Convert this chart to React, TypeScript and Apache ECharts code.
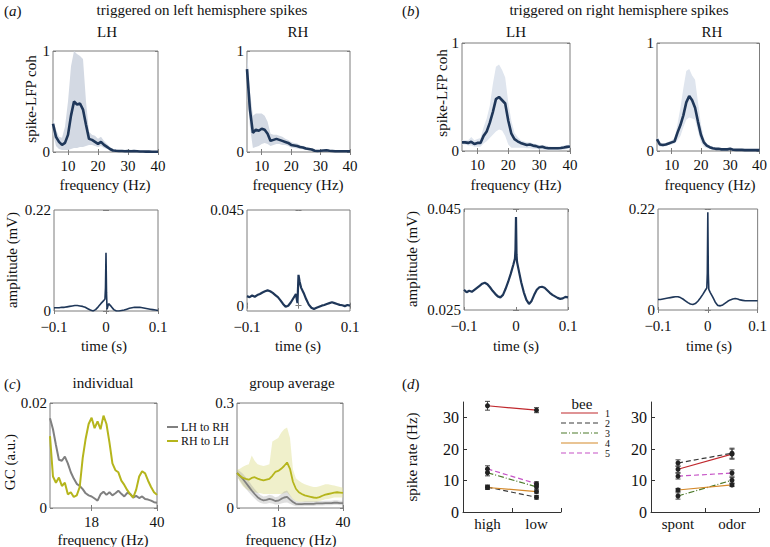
import React, { useEffect, useRef } from 'react';
import * as echarts from 'echarts';

// ---------------- data ----------------
const cohFreq = [5, 6, 7, 8, 9, 10, 11, 12, 13, 14, 15, 16, 17, 18, 19, 20, 21, 22, 23, 24, 25, 26, 27, 28, 29, 30, 31, 32, 33, 34, 35, 36, 37, 38, 39, 40];

const cohA_LH_mean = [0.28, 0.15, 0.10, 0.07, 0.09, 0.17, 0.36, 0.50, 0.47, 0.48, 0.42, 0.27, 0.13, 0.12, 0.10, 0.08, 0.10, 0.07, 0.05, 0.03, 0.015, 0.012, 0.010, 0.010, 0.008, 0.010, 0.008, 0.010, 0.008, 0.005, 0.005, 0.004, 0.004, 0.003, 0.003, 0.003];
const cohA_LH_hi = [0.33, 0.22, 0.15, 0.14, 0.25, 0.50, 0.85, 1.00, 0.97, 0.95, 0.92, 0.50, 0.20, 0.17, 0.16, 0.13, 0.15, 0.11, 0.08, 0.05, 0.03, 0.025, 0.02, 0.02, 0.018, 0.02, 0.018, 0.02, 0.016, 0.012, 0.012, 0.01, 0.01, 0.008, 0.008, 0.008];
const cohA_LH_lo = [0.18, 0.06, 0.03, 0.02, 0.02, 0.02, 0.03, 0.04, 0.04, 0.05, 0.05, 0.06, 0.07, 0.07, 0.06, 0.05, 0.06, 0.04, 0.03, 0.015, 0.005, 0.002, 0.002, 0.002, 0.002, 0.002, 0.002, 0.002, 0.002, 0.002, 0.002, 0.002, 0.002, 0.002, 0.002, 0.002];

const cohA_RH_mean = [0.82, 0.42, 0.19, 0.22, 0.21, 0.23, 0.22, 0.18, 0.11, 0.12, 0.13, 0.12, 0.11, 0.10, 0.09, 0.07, 0.065, 0.06, 0.05, 0.045, 0.035, 0.03, 0.025, 0.012, 0.01, 0.012, 0.015, 0.018, 0.012, 0.01, 0.008, 0.008, 0.008, 0.008, 0.007, 0.007];
const cohA_RH_hi = [1.0, 0.60, 0.36, 0.38, 0.38, 0.38, 0.36, 0.30, 0.18, 0.17, 0.17, 0.16, 0.15, 0.13, 0.12, 0.10, 0.09, 0.085, 0.07, 0.06, 0.05, 0.04, 0.035, 0.02, 0.018, 0.02, 0.022, 0.025, 0.02, 0.015, 0.012, 0.012, 0.012, 0.012, 0.01, 0.01];
const cohA_RH_lo = [0.60, 0.25, 0.04, 0.05, 0.06, 0.08, 0.09, 0.08, 0.06, 0.07, 0.08, 0.08, 0.07, 0.07, 0.06, 0.045, 0.04, 0.035, 0.03, 0.028, 0.02, 0.018, 0.015, 0.005, 0.003, 0.005, 0.008, 0.01, 0.005, 0.004, 0.003, 0.003, 0.003, 0.003, 0.003, 0.003];

const cohB_LH_mean = [0.08, 0.08, 0.075, 0.085, 0.065, 0.075, 0.075, 0.14, 0.18, 0.26, 0.36, 0.48, 0.50, 0.47, 0.44, 0.28, 0.16, 0.11, 0.09, 0.075, 0.065, 0.055, 0.06, 0.05, 0.045, 0.035, 0.04, 0.03, 0.025, 0.025, 0.025, 0.025, 0.028, 0.032, 0.038, 0.042];
const cohB_LH_hi = [0.10, 0.10, 0.10, 0.13, 0.10, 0.11, 0.12, 0.22, 0.30, 0.42, 0.62, 0.78, 0.80, 0.75, 0.68, 0.45, 0.28, 0.17, 0.13, 0.10, 0.09, 0.08, 0.08, 0.07, 0.065, 0.055, 0.055, 0.05, 0.045, 0.04, 0.04, 0.04, 0.045, 0.05, 0.055, 0.06];
const cohB_LH_lo = [0.06, 0.06, 0.05, 0.05, 0.04, 0.04, 0.04, 0.07, 0.09, 0.12, 0.15, 0.18, 0.20, 0.19, 0.14, 0.06, 0.03, 0.03, 0.03, 0.03, 0.03, 0.025, 0.025, 0.02, 0.02, 0.015, 0.015, 0.01, 0.008, 0.008, 0.008, 0.008, 0.01, 0.012, 0.018, 0.022];

const cohB_RH_mean = [0.11, 0.06, 0.055, 0.06, 0.07, 0.08, 0.09, 0.17, 0.24, 0.33, 0.45, 0.51, 0.47, 0.40, 0.27, 0.15, 0.08, 0.05, 0.035, 0.025, 0.02, 0.02, 0.015, 0.015, 0.015, 0.02, 0.012, 0.01, 0.01, 0.01, 0.008, 0.008, 0.008, 0.008, 0.008, 0.008];
const cohB_RH_hi = [0.13, 0.08, 0.07, 0.075, 0.085, 0.10, 0.12, 0.25, 0.40, 0.58, 0.74, 0.76, 0.70, 0.66, 0.45, 0.25, 0.12, 0.07, 0.05, 0.04, 0.03, 0.028, 0.022, 0.02, 0.02, 0.025, 0.018, 0.015, 0.015, 0.014, 0.012, 0.012, 0.012, 0.012, 0.012, 0.012];
const cohB_RH_lo = [0.09, 0.04, 0.04, 0.045, 0.055, 0.06, 0.07, 0.10, 0.14, 0.22, 0.29, 0.31, 0.30, 0.29, 0.18, 0.08, 0.04, 0.025, 0.02, 0.012, 0.01, 0.01, 0.008, 0.008, 0.008, 0.012, 0.006, 0.005, 0.005, 0.005, 0.004, 0.004, 0.004, 0.004, 0.004, 0.004];

const ampTime = [-0.1, -0.095, -0.09, -0.085, -0.08, -0.075, -0.07, -0.065, -0.06, -0.055, -0.05, -0.045, -0.04, -0.035, -0.03, -0.025, -0.02, -0.015, -0.01, -0.005, -0.002, -0.001, 0, 0.001, 0.002, 0.005, 0.01, 0.015, 0.02, 0.025, 0.03, 0.035, 0.04, 0.045, 0.05, 0.055, 0.06, 0.065, 0.07, 0.075, 0.08, 0.085, 0.09, 0.095, 0.1];
const ampA_LH = [0.007, 0.007, 0.007, 0.008, 0.008, 0.009, 0.010, 0.011, 0.012, 0.012, 0.011, 0.010, 0.008, 0.005, 0.002, 0.000, 0.003, 0.009, 0.016, 0.022, 0.026, 0.050, 0.127, 0.040, 0.004, 0.016, 0.010, 0.003, 0.000, 0.000, 0.001, 0.002, 0.004, 0.006, 0.007, 0.008, 0.008, 0.008, 0.007, 0.006, 0.005, 0.004, 0.003, 0.002, 0.001];
const ampA_RH = [0.0045, 0.0040, 0.0048, 0.0042, 0.0050, 0.0055, 0.0062, 0.0068, 0.0072, 0.0068, 0.0060, 0.0050, 0.0040, 0.0025, 0.0008, -0.0005, 0.0000, 0.0015, 0.0035, 0.0055, 0.0012, 0.0080, 0.0145, 0.0130, 0.0115, 0.0085, 0.0060, 0.0030, 0.0005, -0.0010, -0.0016, -0.0010, -0.0005, 0.0000, 0.0003, 0.0008, 0.0012, 0.0016, 0.0012, 0.0008, 0.0004, 0.0002, -0.0002, 0.0003, 0.0000];
const ampB_LH = [0.0290, 0.0285, 0.0288, 0.0286, 0.0290, 0.0294, 0.0298, 0.0302, 0.0304, 0.0301, 0.0295, 0.0288, 0.0282, 0.0277, 0.0275, 0.0280, 0.0292, 0.0306, 0.0322, 0.0340, 0.0352, 0.0370, 0.0434, 0.0360, 0.0345, 0.0330, 0.0305, 0.0285, 0.0270, 0.0262, 0.0268, 0.0280, 0.0290, 0.0295, 0.0296, 0.0294, 0.0289, 0.0284, 0.0280, 0.0277, 0.0274, 0.0272, 0.0273, 0.0276, 0.0275];
const ampB_RH = [0.023, 0.023, 0.024, 0.025, 0.026, 0.027, 0.028, 0.029, 0.029, 0.027, 0.024, 0.020, 0.016, 0.013, 0.012, 0.014, 0.019, 0.026, 0.034, 0.043, 0.048, 0.080, 0.213, 0.080, 0.045, 0.038, 0.028, 0.017, 0.010, 0.009, 0.011, 0.015, 0.019, 0.022, 0.024, 0.025, 0.024, 0.022, 0.021, 0.020, 0.020, 0.020, 0.020, 0.020, 0.020];

const gcFreq = [4, 5, 6, 7, 8, 9, 10, 11, 12, 13, 14, 15, 16, 17, 18, 19, 20, 21, 22, 23, 24, 25, 26, 27, 28, 29, 30, 31, 32, 33, 34, 35, 36, 37, 38, 39, 40];
const gcIndLR = [0.0171, 0.0150, 0.0120, 0.0092, 0.0090, 0.0098, 0.0085, 0.0068, 0.0056, 0.0046, 0.0042, 0.0036, 0.0028, 0.0024, 0.0022, 0.0018, 0.0014, 0.0026, 0.0031, 0.0025, 0.0030, 0.0024, 0.0028, 0.0033, 0.0027, 0.0022, 0.0029, 0.0027, 0.0020, 0.0023, 0.0019, 0.0022, 0.0017, 0.0016, 0.0014, 0.0011, 0.0010];
const gcIndRL = [0.0137, 0.0060, 0.0048, 0.0058, 0.0042, 0.0048, 0.0026, 0.0030, 0.0021, 0.0024, 0.0040, 0.0095, 0.0132, 0.0160, 0.0172, 0.0152, 0.0165, 0.0150, 0.0176, 0.0160, 0.0125, 0.0085, 0.0072, 0.0068, 0.0052, 0.0044, 0.0034, 0.0026, 0.0020, 0.0035, 0.0060, 0.0070, 0.0066, 0.0052, 0.0040, 0.0030, 0.0025];
const gcAvgLR = [0.100, 0.092, 0.083, 0.072, 0.061, 0.050, 0.040, 0.031, 0.025, 0.022, 0.023, 0.026, 0.024, 0.020, 0.021, 0.026, 0.030, 0.032, 0.024, 0.017, 0.012, 0.011, 0.011, 0.012, 0.012, 0.012, 0.012, 0.013, 0.013, 0.013, 0.014, 0.014, 0.014, 0.015, 0.015, 0.014, 0.014];
const gcAvgLR_lo = [0.090, 0.078, 0.066, 0.055, 0.045, 0.036, 0.027, 0.019, 0.014, 0.012, 0.012, 0.014, 0.013, 0.010, 0.010, 0.013, 0.015, 0.016, 0.012, 0.008, 0.005, 0.005, 0.005, 0.006, 0.006, 0.006, 0.006, 0.007, 0.007, 0.007, 0.008, 0.008, 0.008, 0.009, 0.009, 0.008, 0.008];
const gcAvgLR_hi = [0.110, 0.105, 0.098, 0.088, 0.077, 0.065, 0.054, 0.044, 0.037, 0.033, 0.034, 0.038, 0.036, 0.031, 0.033, 0.040, 0.047, 0.050, 0.037, 0.026, 0.020, 0.018, 0.018, 0.019, 0.019, 0.019, 0.019, 0.020, 0.020, 0.020, 0.021, 0.021, 0.021, 0.022, 0.022, 0.021, 0.021];
const gcAvgRL = [0.100, 0.092, 0.086, 0.083, 0.081, 0.086, 0.088, 0.084, 0.081, 0.079, 0.081, 0.083, 0.092, 0.103, 0.106, 0.112, 0.120, 0.130, 0.112, 0.075, 0.055, 0.045, 0.040, 0.036, 0.034, 0.032, 0.030, 0.029, 0.031, 0.035, 0.038, 0.040, 0.042, 0.044, 0.045, 0.044, 0.043];
const gcAvgRL_hi = [0.110, 0.112, 0.118, 0.122, 0.125, 0.150, 0.135, 0.125, 0.122, 0.120, 0.122, 0.125, 0.190, 0.195, 0.200, 0.215, 0.225, 0.230, 0.200, 0.110, 0.085, 0.078, 0.072, 0.068, 0.065, 0.062, 0.060, 0.060, 0.062, 0.065, 0.068, 0.068, 0.066, 0.064, 0.062, 0.060, 0.058];
const gcAvgRL_lo = [0.090, 0.075, 0.062, 0.055, 0.050, 0.048, 0.045, 0.043, 0.042, 0.040, 0.040, 0.040, 0.040, 0.040, 0.040, 0.040, 0.042, 0.045, 0.035, 0.025, 0.020, 0.018, 0.018, 0.018, 0.018, 0.018, 0.018, 0.018, 0.020, 0.022, 0.025, 0.026, 0.028, 0.030, 0.030, 0.030, 0.030];

const beeNames = ['1', '2', '3', '4', '5'];
const intensityCats = ['high', 'low'];
const stimCats = ['spont', 'odor'];
const beeHigh = [33.8, 7.9, 12.5, 7.8, 13.7];
const beeLow = [32.4, 4.7, 8.0, 6.5, 9.0];
const beeHighErr = [1.4, 0.7, 1.0, 0.6, 1.0];
const beeLowErr = [0.8, 0.6, 0.7, 0.5, 0.6];
const beeSpont = [13.6, 15.6, 5.1, 7.0, 11.4];
const beeOdor = [18.4, 18.7, 10.1, 8.6, 12.4];
const beeSpontErr = [1.0, 1.0, 1.0, 0.5, 0.9];
const beeOdorErr = [1.6, 1.6, 0.9, 0.5, 1.0];

// ---------------- styles ----------------
const FONT = "'Liberation Serif', 'Times New Roman', serif";
const FRAME = '#7d7d7d';
const NAVY = '#1f3759';
const BAND_A = '#d3d9e3';
const BAND_B = '#dfe5ee';
const GC_GRAY = '#808080';
const GC_YEL = '#b5b51c';
const BEE_COLORS = ['#c0282d', '#3a3a3a', '#4d7a2a', '#d4892a', '#c653c6'];
const BEE_DASH: any[] = ['solid', [5, 3], [6, 2, 1, 2], 'solid', [5, 3]];

function buildOption() {
  const grids: any[] = [];
  const xAxes: any[] = [];
  const yAxes: any[] = [];
  const series: any[] = [];
  const graphics: any[] = [];
  const fmt = (v: number) => (v < 0 ? '\u2212' + String(Math.abs(v)) : String(v));
  const lab = { color: '#111', fontSize: 15, fontFamily: FONT, lineHeight: 13 };
  const tick = { show: true, inside: true, length: 3, lineStyle: { color: FRAME, width: 1 } };

  function framed(box: number[], xr: number[], xt: number[], yr: number[], yt: number[], xMargin = 7) {
    const gi = grids.length;
    grids.push({ left: box[0], top: box[1], width: box[2], height: box[3], show: true, borderColor: FRAME, borderWidth: 1, backgroundColor: 'transparent' });
    const xi = xAxes.length;
    xAxes.push({ type: 'value', gridIndex: gi, position: 'bottom', min: xr[0], max: xr[1], axisLine: { show: false }, splitLine: { show: false }, axisTick: { ...tick, customValues: xt }, axisLabel: { ...lab, customValues: xt, formatter: fmt, margin: xMargin } });
    xAxes.push({ type: 'value', gridIndex: gi, position: 'top', min: xr[0], max: xr[1], axisLine: { show: false }, splitLine: { show: false }, axisTick: { ...tick, customValues: xt }, axisLabel: { show: false } });
    const yi = yAxes.length;
    yAxes.push({ type: 'value', gridIndex: gi, position: 'left', min: yr[0], max: yr[1], axisLine: { show: false }, splitLine: { show: false }, axisTick: { ...tick, customValues: yt }, axisLabel: { ...lab, customValues: yt, formatter: fmt, margin: 3 } });
    yAxes.push({ type: 'value', gridIndex: gi, position: 'right', min: yr[0], max: yr[1], axisLine: { show: false }, splitLine: { show: false }, axisTick: { ...tick, customValues: yt }, axisLabel: { show: false } });
    return { xi, yi };
  }

  function plain(box: number[], cats: string[]) {
    const gi = grids.length;
    grids.push({ left: box[0], top: box[1], width: box[2], height: box[3], show: false });
    const xi = xAxes.length;
    const al = { show: true, lineStyle: { color: '#333', width: 1 } };
    xAxes.push({ type: 'category', gridIndex: gi, data: cats, boundaryGap: true, axisLine: al, axisTick: { show: true, inside: true, length: 4, lineStyle: { color: '#333' } }, axisLabel: { ...lab, margin: 5 }, splitLine: { show: false } });
    const yi = yAxes.length;
    yAxes.push({ type: 'value', gridIndex: gi, min: 0, max: 35, axisLine: al, axisTick: { show: true, inside: true, length: 4, lineStyle: { color: '#333' }, customValues: [0, 10, 20, 30] }, axisLabel: { ...lab, fontSize: 16, margin: 4, customValues: [0, 10, 20, 30] }, splitLine: { show: false } });
    return { xi, yi };
  }

  function line(ax: any, xs: number[], ys: number[], color: string, width: number, z = 3) {
    series.push({ type: 'line', xAxisIndex: ax.xi, yAxisIndex: ax.yi, data: xs.map((x, i) => [x, ys[i]]), symbol: 'none', showSymbol: false, lineStyle: { color, width }, z, silent: true, clip: true });
  }
  // shaded band drawn as a single polygon through the axis scales
  function band(ax: any, xs: number[], lo: number[], hi: number[], color: string, z = 1) {
    series.push({
      type: 'custom', xAxisIndex: ax.xi, yAxisIndex: ax.yi, z, silent: true, clip: true,
      data: xs.map((x, i) => [x, lo[i], hi[i]]),
      renderItem: (params: any, api: any) => {
        if (params.dataIndex !== 0) return null;
        const upper = xs.map((x, i) => api.coord([x, hi[i]]));
        const lower = xs.map((x, i) => api.coord([x, lo[i]])).reverse();
        return { type: 'polygon', shape: { points: upper.concat(lower) }, style: { fill: color, stroke: 'none' } };
      },
    });
  }
  function errbars(ax: any, vals: number[][], errs: number[][]) {
    const data: number[][] = [];
    vals.forEach((v, b) => v.forEach((val, c) => data.push([c, val - errs[b][c], val + errs[b][c]])));
    series.push({
      type: 'custom', xAxisIndex: ax.xi, yAxisIndex: ax.yi, z: 2, silent: true, data,
      renderItem: (_p: any, api: any) => {
        const x = api.value(0);
        const a = api.coord([x, api.value(1)]);
        const b = api.coord([x, api.value(2)]);
        const w = 2.5;
        const st = { stroke: '#444', lineWidth: 1 };
        return {
          type: 'group', children: [
            { type: 'line', shape: { x1: a[0], y1: a[1], x2: b[0], y2: b[1] }, style: st },
            { type: 'line', shape: { x1: a[0] - w, y1: a[1], x2: a[0] + w, y2: a[1] }, style: st },
            { type: 'line', shape: { x1: b[0] - w, y1: b[1], x2: b[0] + w, y2: b[1] }, style: st },
          ],
        };
      },
    });
  }
  function beeLines(ax: any, a: number[], b: number[]) {
    beeNames.forEach((_n, i) => {
      series.push({ type: 'line', xAxisIndex: ax.xi, yAxisIndex: ax.yi, data: [a[i], b[i]], symbol: 'circle', symbolSize: 5, itemStyle: { color: '#222' }, lineStyle: { color: BEE_COLORS[i], width: 1.2, type: BEE_DASH[i] }, z: 3, silent: true });
    });
  }

  // ---- row 1: coherence ----
  const cohX = [5, 40];
  const cohXT = [10, 20, 30, 40];
  const a1 = framed([53, 51, 105, 101], cohX, cohXT, [0, 1], [0, 1]);
  band(a1, cohFreq, cohA_LH_lo, cohA_LH_hi, BAND_A);
  line(a1, cohFreq, cohA_LH_mean, NAVY, 2.6);
  const a2 = framed([247, 51, 103, 101], cohX, cohXT, [0, 1], [0, 1]);
  band(a2, cohFreq, cohA_RH_lo, cohA_RH_hi, BAND_A);
  line(a2, cohFreq, cohA_RH_mean, NAVY, 2.6);
  const b1 = framed([462, 43, 108, 108], cohX, cohXT, [0, 1], [0, 1]);
  band(b1, cohFreq, cohB_LH_lo, cohB_LH_hi, BAND_B);
  line(b1, cohFreq, cohB_LH_mean, NAVY, 2.6);
  const b2 = framed([657, 43, 106, 108], cohX, cohXT, [0, 1], [0, 1]);
  band(b2, cohFreq, cohB_RH_lo, cohB_RH_hi, BAND_B);
  line(b2, cohFreq, cohB_RH_mean, NAVY, 2.6);

  // ---- row 2: amplitude ----
  const tX = [-0.1, 0.1];
  const tXT = [-0.1, 0, 0.1];
  const a3 = framed([54, 210, 104, 101], tX, tXT, [0, 0.22], [0, 0.22], 9);
  line(a3, ampTime, ampA_LH, NAVY, 1.6);
  const a4 = framed([247, 210, 103, 101], tX, tXT, [-0.0025, 0.045], [0, 0.045], 9);
  line(a4, ampTime, ampA_RH, NAVY, 2.2);
  const b3 = framed([464, 209, 104, 101], tX, tXT, [0.025, 0.045], [0.025, 0.045], 9);
  line(b3, ampTime, ampB_LH, NAVY, 2.2);
  const b4 = framed([658, 209, 103, 101], tX, tXT, [0, 0.22], [0, 0.22], 9);
  line(b4, ampTime, ampB_RH, NAVY, 1.6);

  // ---- row 3: GC ----
  const c1 = framed([50, 403, 107, 105], [4, 40], [18, 40], [0, 0.02], [0, 0.02]);
  line(c1, gcFreq, gcIndLR, GC_GRAY, 2);
  line(c1, gcFreq, gcIndRL, GC_YEL, 2);
  const c2 = framed([237, 403, 106, 105], [4, 40], [18, 40], [0, 0.3], [0, 0.3]);
  band(c2, gcFreq, gcAvgRL_lo, gcAvgRL_hi, 'rgba(222,222,140,0.45)');
  band(c2, gcFreq, gcAvgLR_lo, gcAvgLR_hi, 'rgba(150,150,150,0.3)');
  line(c2, gcFreq, gcAvgLR, GC_GRAY, 1.8);
  line(c2, gcFreq, gcAvgRL, GC_YEL, 1.8);

  // ---- (d) spike rates ----
  const d1 = plain([463, 402, 98, 110], intensityCats);
  errbars(d1, beeHigh.map((v, i) => [v, beeLow[i]]), beeHighErr.map((e, i) => [e, beeLowErr[i]]));
  beeLines(d1, beeHigh, beeLow);
  const d2 = plain([651, 402, 108, 110], stimCats);
  errbars(d2, beeSpont.map((v, i) => [v, beeOdor[i]]), beeSpontErr.map((e, i) => [e, beeOdorErr[i]]));
  beeLines(d2, beeSpont, beeOdor);

  // ---- texts ----
  const base = { fill: '#111', fontSize: 15, fontFamily: FONT, align: 'center', verticalAlign: 'middle' };
  const text = (x: number, y: number, s: string, o: any = {}) => graphics.push({ type: 'text', x, y, silent: true, style: { ...base, text: s, ...o } });
  const vtext = (x: number, y: number, s: string, o: any = {}) => graphics.push({ type: 'text', x, y, rotation: Math.PI / 2, silent: true, style: { ...base, text: s, ...o } });
  const plabel = (x: number, y: number, l: string) => graphics.push({
    type: 'text', x, y, silent: true,
    style: { text: '{n|(}{i|' + l + '}{n|)}', align: 'left', verticalAlign: 'middle', fontSize: 15, fontFamily: FONT, fill: '#111', rich: { n: { fontSize: 15, fontFamily: FONT, fill: '#111' }, i: { fontSize: 15, fontFamily: FONT, fill: '#111', fontStyle: 'italic' } } },
  });

  plabel(4, 11, 'a');
  text(202, 10, 'triggered on left hemisphere spikes');
  plabel(402, 11, 'b');
  text(619, 10, 'triggered on right hemisphere spikes');
  text(107, 32, 'LH');
  text(298, 32, 'RH');
  text(516, 32, 'LH');
  text(712, 32, 'RH');
  vtext(31, 99, 'spike-LFP coh');
  vtext(442, 93, 'spike-LFP coh');
  text(105, 185, 'frequency (Hz)');
  text(298, 185, 'frequency (Hz)');
  text(516, 185, 'frequency (Hz)');
  text(710, 185, 'frequency (Hz)');
  vtext(12, 260, 'amplitude (mV)');
  vtext(412, 259, 'amplitude (mV)');
  text(104, 346, 'time (s)');
  text(298, 346, 'time (s)');
  text(516, 346, 'time (s)');
  text(709, 346, 'time (s)');

  plabel(4, 384, 'c');
  text(103, 383, 'individual');
  text(292, 383, 'group average');
  vtext(10, 462, 'GC (a.u.)');
  text(103, 540, 'frequency (Hz)');
  text(291, 540, 'frequency (Hz)');
  graphics.push({ type: 'line', silent: true, shape: { x1: 167, y1: 427, x2: 178, y2: 427 }, style: { stroke: GC_GRAY, lineWidth: 2 } });
  graphics.push({ type: 'line', silent: true, shape: { x1: 167, y1: 441, x2: 178, y2: 441 }, style: { stroke: GC_YEL, lineWidth: 2 } });
  text(181, 427, 'LH to RH', { align: 'left', fontSize: 12 });
  text(181, 441, 'RH to LH', { align: 'left', fontSize: 12 });

  plabel(402, 384, 'd');
  vtext(412, 457, 'spike rate (Hz)');
  text(582, 404, 'bee');
  const legY = [413, 423, 433, 443, 453];
  beeNames.forEach((n, i) => {
    const d = BEE_DASH[i];
    graphics.push({ type: 'line', silent: true, shape: { x1: 561, y1: legY[i], x2: 598, y2: legY[i] }, style: { stroke: BEE_COLORS[i], lineWidth: 1.2, lineDash: d === 'solid' ? null : d } });
    text(605, legY[i], n, { align: 'left', fontSize: 10, lineHeight: 10 });
  });

  return {
    animation: false,
    backgroundColor: '#ffffff',
    grid: grids,
    xAxis: xAxes,
    yAxis: yAxes,
    series,
    graphic: graphics,
  };
}

export default function App() {
  const ref = useRef<HTMLDivElement>(null);
  useEffect(() => {
    if (!ref.current) return;
    const chart = echarts.init(ref.current, null, { renderer: 'svg' });
    chart.setOption(buildOption() as any);
    return () => chart.dispose();
  }, []);
  return <div ref={ref} style={{ position: 'absolute', left: 0, top: 0, width: 770, height: 547, background: '#fff' }} />;
}
